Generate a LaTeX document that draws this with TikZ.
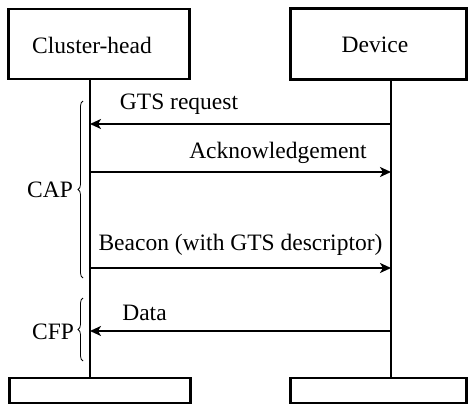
\documentclass[tikz,border=0pt]{standalone}
\usepackage{fontspec}
\setmainfont{Liberation Serif}
\usetikzlibrary{arrows.meta,decorations.pathreplacing}
\begin{document}
\begin{tikzpicture}[x=1pt,y=-1pt,
 box/.style={draw,line width=2.2pt,inner sep=0pt},
 life/.style={line width=2.4pt},
 msg/.style={line width=2.4pt,-{Stealth[length=11pt,width=10pt,inset=3pt]}},
 lbl/.style={font=\fontsize{23.5}{28}\selectfont,inner sep=0pt},
 brc/.style={decorate,decoration={brace,amplitude=5pt},line width=0.8pt}]
\useasboundingbox (0,0) rectangle (468,406);
% boxes
\node[box,minimum width=181pt,minimum height=70pt] (ch) at (99,44) {};
\node[box,minimum width=176pt,minimum height=71pt] (dv) at (378.5,44) {};
\node[lbl] (chl) at (92,45) {Cluster-head};
\node[lbl] (dvl) at (375,45) {Device};
\node[box,minimum width=181pt,minimum height=25pt] (chb) at (100,390.5) {};
\node[box,minimum width=176pt,minimum height=25pt] (dvb) at (378.5,390.5) {};
% lifelines
\coordinate (ct) at (90,80);
\coordinate (cb) at (90,378);
\coordinate (dt) at (391,80);
\coordinate (db) at (391,378);
\draw[life] (ct) -- (cb);
\draw[life] (dt) -- (db);
% message end points
\coordinate (c1) at (90,124); \coordinate (d1) at (391,124);
\coordinate (c2) at (90,172); \coordinate (d2) at (391,172);
\coordinate (c3) at (90,268); \coordinate (d3) at (391,268);
\coordinate (c4) at (90,331); \coordinate (d4) at (391,331);
\draw[msg] (d1) -- (c1);
\draw[msg] (c2) -- (d2);
\draw[msg] (c3) -- (d3);
\draw[msg] (d4) -- (c4);
\node[lbl] (m1) at (179,104) {GTS request};
\node[lbl] (m2) at (278,153) {Acknowledgement};
\node[lbl] (m3) at (240.5,245) {Beacon (with GTS descriptor)};
\node[lbl] (m4) at (144.5,313) {Data};
% braces
\coordinate (b1s) at (83,278); \coordinate (b1e) at (83,101);
\coordinate (b2s) at (83,361); \coordinate (b2e) at (83,298);
\draw[brc] (b1s) -- (b1e);
\draw[brc] (b2s) -- (b2e);
\node[lbl] (cap) at (50,190) {CAP};
\node[lbl] (cfp) at (53,332) {CFP};
\end{tikzpicture}
\end{document}
